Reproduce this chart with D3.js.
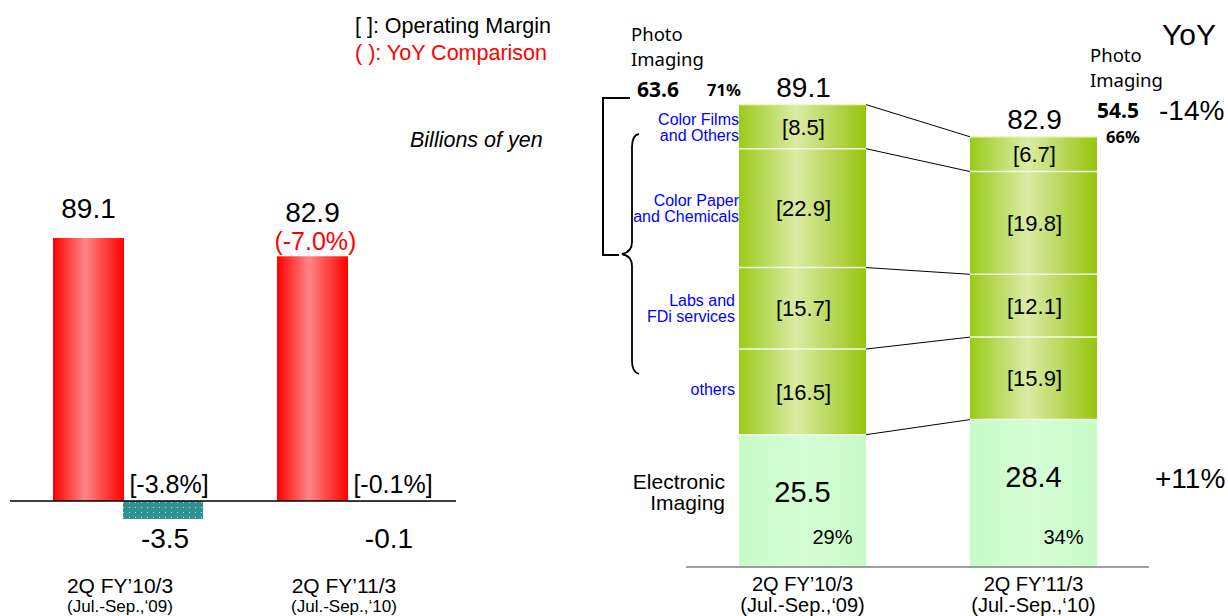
<!DOCTYPE html>
<html><head><meta charset="utf-8">
<script src="https://cdn.jsdelivr.net/npm/d3@7"></script>
<style>
body{margin:0;background:#fff}
svg{display:block}
text{font-family:"Liberation Sans",Arial,sans-serif;fill:#000}
</style>
</head><body>
<svg id="chart" width="1228" height="616"></svg>
<script>
// ---------- data ----------
const categories = ["2Q FY’10/3", "2Q FY’11/3"];
const periods = ["(Jul.-Sep.,‘09)", "(Jul.-Sep.,‘10)"];
const sales = [89.1, 82.9];
const salesYoY = [null, -7.0];
const operatingIncome = [-3.5, -0.1];
const operatingMargin = [-3.8, -0.1];

const segmentNames = ["Electronic Imaging", "others", "Labs and FDi services", "Color Paper and Chemicals", "Color Films and Others"];
const segmentLabelLines = [["Electronic", "Imaging"], ["others"], ["Labs and", "FDi services"], ["Color Paper", "and Chemicals"], ["Color Films", "and Others"]];
const segmentsFY10 = [25.5, 16.5, 15.7, 22.9, 8.5];
const segmentsFY11 = [28.4, 15.9, 12.1, 19.8, 6.7];
const totals = [89.1, 82.9];
const photoImaging = [63.6, 54.5];
const photoShare = [71, 66];
const electronicShare = [29, 34];
const yoyPhoto = -14;
const yoyElectronic = 11;

// ---------- setup ----------
const svg = d3.select("#chart");
svg.append("rect").attr("width", 1228).attr("height", 616).attr("fill", "#fff");
const defs = svg.append("defs");
function hGrad(id, stops) {
  const g = defs.append("linearGradient").attr("id", id).attr("x1", 0).attr("x2", 1).attr("y1", 0).attr("y2", 0);
  stops.forEach(([o, c]) => g.append("stop").attr("offset", o).attr("stop-color", c));
}
hGrad("redGrad", [[0, "#ff0000"], [0.45, "#ff8585"], [1, "#ff0000"]]);
hGrad("greenGrad", [[0, "#9acb18"], [0.45, "#dcebA4"], [1, "#95c50c"]]);
hGrad("lightGreen", [[0, "#c8fbc8"], [0.5, "#d6fdd6"], [1, "#c8fbc8"]]);
const pat = defs.append("pattern").attr("id", "teal").attr("patternUnits", "userSpaceOnUse")
  .attr("width", 6).attr("height", 5);
pat.append("rect").attr("width", 6).attr("height", 5).attr("fill", "#2e9292");
pat.append("rect").attr("x", 3).attr("y", 2).attr("width", 1).attr("height", 1).attr("fill", "#c6e8e8");

// ---------- left chart ----------
const L = svg.append("g");
const x0 = d3.scaleBand().domain(categories).range([53, 427]).paddingInner(0.33).paddingOuter(0);
const x1 = d3.scaleBand().domain(["sales", "oi"]).range([0, x0.bandwidth()]);
const ySales = d3.scaleLinear().domain([0, d3.max(sales)]).range([501, 238]);
const yOI = d3.scaleLinear().domain([d3.min(operatingIncome), 0]).range([519, 501]);

const salesW = x1.bandwidth() - 4;
L.selectAll(".sales").data(sales).join("rect")
  .attr("x", (d, i) => x0(categories[i]) + x1("sales"))
  .attr("y", d => ySales(d))
  .attr("width", salesW)
  .attr("height", d => ySales(0) - ySales(d))
  .attr("fill", "url(#redGrad)");

L.selectAll(".oi").data(operatingIncome).join("rect")
  .attr("x", (d, i) => x0(categories[i]) + x1("oi") - 5)
  .attr("y", d => yOI(Math.max(0, d)))
  .attr("width", x1.bandwidth() + 5)
  .attr("height", d => Math.abs(yOI(d) - yOI(0)))
  .attr("fill", "url(#teal)");

L.append("line").attr("x1", 10).attr("x2", 456).attr("y1", yOI(0)).attr("y2", yOI(0))
  .attr("stroke", "#000").attr("stroke-width", 1.3);

// sales labels
sales.forEach((v, i) => {
  const cx = x0(categories[i]) + x1("sales") + salesW / 2;
  const top = ySales(v);
  if (salesYoY[i] == null) {
    L.append("text").attr("x", cx).attr("y", top - 20).attr("text-anchor", "middle")
      .attr("font-size", 28).text(v.toFixed(1));
  } else {
    L.append("text").attr("x", cx).attr("y", top - 34).attr("text-anchor", "middle")
      .attr("font-size", 28).text(v.toFixed(1));
    L.append("text").attr("x", cx + 3).attr("y", top - 6).attr("text-anchor", "middle")
      .attr("font-size", 25).style("fill", "#ff0000").text(`(${salesYoY[i].toFixed(1)}%)`);
  }
});
// operating income labels
operatingIncome.forEach((v, i) => {
  const cx = x0(categories[i]) + x1("oi") - 5 + (x1.bandwidth() + 5) / 2;
  L.append("text").attr("x", cx + 6).attr("y", yOI(0) - 8).attr("text-anchor", "middle")
    .attr("font-size", 25).text(`[${operatingMargin[i].toFixed(1)}%]`);
  L.append("text").attr("x", cx + 2).attr("y", yOI(0) + 47).attr("text-anchor", "middle")
    .attr("font-size", 28).text(v.toFixed(1));
});
// category labels
categories.forEach((c, i) => {
  const cx = x0(c) + x0.bandwidth() / 2 - 8;
  L.append("text").attr("x", cx).attr("y", 593).attr("text-anchor", "middle").attr("font-size", 21).text(c);
  L.append("text").attr("x", cx).attr("y", 612).attr("text-anchor", "middle").attr("font-size", 17).text(periods[i]);
});

// legend / unit
svg.append("text").attr("x", 355).attr("y", 33).attr("font-size", 21.5).text("[ ]: Operating Margin");
svg.append("text").attr("x", 355).attr("y", 60).attr("font-size", 21.5).style("fill", "#ff0000").text("( ): YoY Comparison");
svg.append("text").attr("x", 410).attr("y", 147).attr("font-size", 21.5).attr("font-style", "italic").text("Billions of yen");

// ---------- right chart ----------
const R = svg.append("g");
const xR = d3.scaleBand().domain(categories).range([739, 1097]).paddingInner(0.45).paddingOuter(0);
const yR = d3.scaleLinear().domain([0, d3.max(totals)]).range([567, 104.6]);
const bw = xR.bandwidth();

const rows = categories.map((c, i) => {
  const vals = [segmentsFY10, segmentsFY11][i];
  const r = { category: c };
  segmentNames.forEach((k, j) => r[k] = vals[j]);
  return r;
});
const stacked = d3.stack().keys(segmentNames)(rows);

// connector lines
stacked.forEach(s => {
  R.append("line")
    .attr("x1", xR(categories[0]) + bw).attr("y1", yR(s[0][1]))
    .attr("x2", xR(categories[1])).attr("y2", yR(s[1][1]))
    .attr("stroke", "#000").attr("stroke-width", 1);
});

stacked.forEach((s, j) => {
  R.selectAll(null).data(s).join("rect")
    .attr("x", d => xR(d.data.category))
    .attr("y", d => yR(d[1]))
    .attr("width", bw)
    .attr("height", d => yR(d[0]) - yR(d[1]))
    .attr("fill", j === 0 ? "url(#lightGreen)" : "url(#greenGrad)");
});
// separators
stacked.forEach((s, j) => {
  s.forEach(d => {
    R.append("line").attr("x1", xR(d.data.category)).attr("x2", xR(d.data.category) + bw)
      .attr("y1", yR(d[1])).attr("y2", yR(d[1]))
      .attr("stroke", j === stacked.length - 1 ? "#eef6c8" : "#f4f9e6").attr("stroke-width", 1.5);
  });
});

// segment labels
stacked.forEach((s, j) => {
  s.forEach((d, i) => {
    const cx = xR(d.data.category) + bw / 2;
    const v = d[1] - d[0];
    if (j === 0) {
      R.append("text").attr("x", cx).attr("y", yR(d[1]) + 67).attr("text-anchor", "middle")
        .attr("font-size", 29).text(v.toFixed(1));
      R.append("text").attr("x", cx + 30).attr("y", yR(0) - 23).attr("text-anchor", "middle")
        .attr("font-size", 20).text(`${electronicShare[i]}%`);
    } else {
      R.append("text").attr("x", cx + 1).attr("y", (yR(d[0]) + yR(d[1])) / 2 + 8).attr("text-anchor", "middle")
        .attr("font-size", 22).text(`[${v.toFixed(1)}]`);
    }
  });
});

// totals
totals.forEach((t, i) => {
  R.append("text").attr("x", xR(categories[i]) + bw / 2 + 1).attr("y", yR(t) - 8)
    .attr("text-anchor", "middle").attr("font-size", 28).text(t.toFixed(1));
});

// segment names (left of first bar)
stacked.forEach((s, j) => {
  const d = s[0];
  const mid = (yR(d[0]) + yR(d[1])) / 2;
  const lines = segmentLabelLines[j];
  if (j === 0) {
    R.append("text").attr("x", 725).attr("y", mid - 12).attr("text-anchor", "end").attr("font-size", 21).text(lines[0]);
    R.append("text").attr("x", 725).attr("y", mid + 9).attr("text-anchor", "end").attr("font-size", 21).text(lines[1]);
  } else {
    const xr = j >= 3 ? 739 : 735;
    if (lines.length === 1) {
      R.append("text").attr("x", xr).attr("y", mid + 3).attr("text-anchor", "end")
        .attr("font-size", 16).style("fill", "#0000ff").text(lines[0]);
    } else {
      R.append("text").attr("x", xr).attr("y", mid - 2).attr("text-anchor", "end")
        .attr("font-size", 16).style("fill", "#0000ff").text(lines[0]);
      R.append("text").attr("x", xr).attr("y", mid + 14).attr("text-anchor", "end")
        .attr("font-size", 16).style("fill", "#0000ff").text(lines[1]);
    }
  }
});

// axis baseline
R.append("line").attr("x1", 686).attr("x2", 1149).attr("y1", yR(0)).attr("y2", yR(0))
  .attr("stroke", "#808080").attr("stroke-width", 1.5);
categories.forEach((c, i) => {
  const cx = xR(c) + bw / 2;
  R.append("text").attr("x", cx).attr("y", 591).attr("text-anchor", "middle").attr("font-size", 20).text(c);
  R.append("text").attr("x", cx).attr("y", 612).attr("text-anchor", "middle").attr("font-size", 20).text(periods[i]);
});

// Photo Imaging annotations
const pf = "'Noto Sans', sans-serif";
function photoBlock(x, y0) {
  R.append("text").attr("x", x).attr("y", y0).attr("font-size", 18.5).style("font-family", pf).text("Photo");
  R.append("text").attr("x", x).attr("y", y0 + 25).attr("font-size", 18.5).style("font-family", pf).text("Imaging");
}
photoBlock(631, 41);
R.append("text").attr("x", 637).attr("y", 97).attr("font-size", 21).attr("font-weight", "bold").style("font-family", pf).text(photoImaging[0].toFixed(1));
R.append("text").attr("x", 707).attr("y", 96).attr("font-size", 16.5).attr("font-weight", "bold").style("font-family", pf).text(`${photoShare[0]}%`);
photoBlock(1090, 62);
R.append("text").attr("x", 1097).attr("y", 118).attr("font-size", 21).attr("font-weight", "bold").style("font-family", pf).text(photoImaging[1].toFixed(1));
R.append("text").attr("x", 1106).attr("y", 143).attr("font-size", 16.5).attr("font-weight", "bold").style("font-family", pf).text(`${photoShare[1]}%`);

R.append("text").attr("x", 1162).attr("y", 45).attr("font-size", 30).text("YoY");
R.append("text").attr("x", 1159).attr("y", 120).attr("font-size", 28).text(`${yoyPhoto}%`);
R.append("text").attr("x", 1155).attr("y", 488).attr("font-size", 28).text(`+${yoyElectronic}%`);

// brackets (annotation)
R.append("path").attr("d", "M630,98 L603,98 L603,255 L619,255")
  .attr("fill", "none").attr("stroke", "#000").attr("stroke-width", 2);
R.append("path").attr("d", "M639,134 Q632,135 632,147 L632,242 Q632,252 622,254 Q632,256 632,266 L632,361 Q632,372 639,374")
  .attr("fill", "none").attr("stroke", "#000").attr("stroke-width", 1.8);
</script>
</body></html>
